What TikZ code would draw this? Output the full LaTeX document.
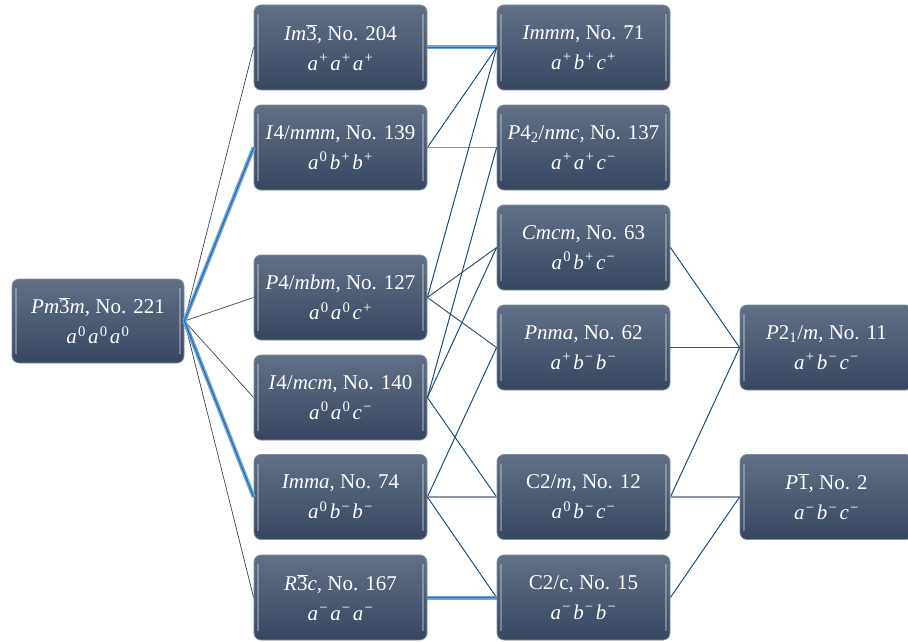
\documentclass[tikz,border=0pt]{standalone}
\usepackage{fontspec}
\setmainfont{Liberation Serif}
\newcommand\ivar[1]{\textit{#1}}
\newcommand\subr[1]{\textsubscript{#1}}
\newcommand\ovl[1]{$\overline{\mbox{#1}}$}
\newcommand\mn{−}
% one tilt component: italic letter with its superscript
\newcommand\tc[2]{\textit{#1}\kern1.2pt\textsuperscript{#2}}
% three tilt components with even gaps and no trailing space
\newcommand\tri[6]{\tc{#1}{#2}\kern2.2pt\tc{#3}{#4}\kern2.2pt\tc{#5}{#6}}
\begin{document}
\definecolor{boxtop}{HTML}{617085}
\definecolor{boxbot}{HTML}{374760}
\definecolor{boxedge}{HTML}{7F8DA2}
\definecolor{lineblue}{HTML}{1F4E79}
\definecolor{pmline}{HTML}{3A4456}
\definecolor{grayline}{HTML}{8C98A8}
\definecolor{slateline}{HTML}{3E5468}
\definecolor{lightblue}{HTML}{6AA6DC}
\definecolor{midblue}{HTML}{2F6FA8}
\begin{tikzpicture}[x=1pt,y=-1pt,
  box/.style={rounded corners=7pt, minimum width=173pt, minimum height=85pt,
    top color=boxtop, bottom color=boxbot, draw=boxedge, line width=0.8pt,
    text=white, align=center, inner sep=0pt,
    font=\fontsize{21}{30}\selectfont,
    path picture={
      \draw[white,opacity=0.3,line width=2pt]
        ([xshift=4pt,yshift=-9pt]path picture bounding box.north west) --
        ([xshift=4pt,yshift=9pt]path picture bounding box.south west);
      \draw[white,opacity=0.3,line width=2pt]
        ([xshift=-4pt,yshift=-9pt]path picture bounding box.north east) --
        ([xshift=-4pt,yshift=9pt]path picture bounding box.south east);}},
  thin/.style={draw=lineblue, line width=1pt},
  pm/.style={draw=pmline, line width=0.7pt},
  grayh/.style={draw=grayline, line width=1.3pt},
  slate/.style={draw=slateline, line width=1pt},
  thick/.style={draw=lightblue, line width=4pt},
  thickc/.style={draw=midblue, line width=1.2pt}
]
\useasboundingbox (0,0) rectangle (908,642);

% column 1
\node[box, minimum width=172pt, minimum height=84pt] (pm3m) at (98,321)
  {\ivar{Pm}\ovl{3}\ivar{m}, No. 221\\\tri{a}{0}{a}{0}{a}{0}};
% column 2
\node[box] (im3)   at (340.5,47.5)
  {\ivar{Im}\ovl{3}, No. 204\\\tri{a}{+}{a}{+}{a}{+}};
\node[box] (i4mmm) at (340.5,147.5)
  {\ivar{I}4/\ivar{mmm}, No. 139\\\tri{a}{0}{b}{+}{b}{+}};
\node[box] (p4mbm) at (340.5,297.5)
  {\ivar{P}4/\ivar{mbm}, No. 127\\\tri{a}{0}{a}{0}{c}{+}};
\node[box] (i4mcm) at (340.5,397.5)
  {\ivar{I}4/\ivar{mcm}, No. 140\\\tri{a}{0}{a}{0}{c}{\mn}};
\node[box] (imma)  at (340.5,497)
  {\ivar{Imma}, No. 74\\\tri{a}{0}{b}{\mn}{b}{\mn}};
\node[box] (r3c)   at (340.5,597.5)
  {\ivar{R}\ovl{3}\ivar{c}, No. 167\\\tri{a}{\mn}{a}{\mn}{a}{\mn}};
% column 3
\node[box] (immm)  at (583.5,47.5)
  {\ivar{Immm}, No. 71\\\tri{a}{+}{b}{+}{c}{+}};
\node[box] (p42)   at (583.5,147.5)
  {\ivar{P}4\subr{2}/\ivar{nmc}, No. 137\\\tri{a}{+}{a}{+}{c}{\mn}};
\node[box] (cmcm)  at (583.5,247.5)
  {\ivar{Cmcm}, No. 63\\\tri{a}{0}{b}{+}{c}{\mn}};
\node[box] (pnma)  at (583.5,347.5)
  {\ivar{Pnma}, No. 62\\\tri{a}{+}{b}{\mn}{b}{\mn}};
\node[box] (c2m)   at (583.5,497)
  {C2/\ivar{m}, No. 12\\\tri{a}{0}{b}{\mn}{c}{\mn}};
\node[box] (c2c)   at (583.5,597.5)
  {C2/c, No. 15\\\tri{a}{\mn}{b}{\mn}{b}{\mn}};
% column 4
\node[box] (p21m)  at (826.5,347.5)
  {\ivar{P}2\subr{1}/\ivar{m}, No. 11\\\tri{a}{+}{b}{\mn}{c}{\mn}};
\node[box] (p1)    at (826.5,497)
  {\ivar{P}\ovl{1}, No. 2\\\tri{a}{\mn}{b}{\mn}{c}{\mn}};

% connectors from Pm-3m
\draw[pm] (pm3m.east) -- (im3.west);
\draw[pm] (pm3m.east) -- (p4mbm.west);
\draw[pm] (pm3m.east) -- (i4mcm.west);
\draw[pm] (pm3m.east) -- (r3c.west);
\draw[thick] (pm3m.east) -- (i4mmm.west);
\draw[thickc] (pm3m.east) -- (i4mmm.west);
\draw[thick] (pm3m.east) -- (imma.west);
\draw[thickc] (pm3m.east) -- (imma.west);

% column 2 -> column 3
\draw[thick] (im3.east) -- (immm.west);
\draw[thickc] (im3.east) -- (immm.west);
\draw[thin] (i4mmm.east) -- (immm.west);
\draw[grayh] (i4mmm.east) -- (p42.west);
\draw[thin] (p4mbm.east) -- (immm.west);
\draw[slate] (p4mbm.east) -- (cmcm.west);
\draw[slate] (p4mbm.east) -- (pnma.west);
\draw[thin] (i4mcm.east) -- (p42.west);
\draw[thin] (i4mcm.east) -- (cmcm.west);
\draw[thin] (i4mcm.east) -- (c2m.west);
\draw[thin] (imma.east) -- (pnma.west);
\draw[grayh] (imma.east) -- (c2m.west);
\draw[thin] (imma.east) -- (c2c.west);
\draw[thick] (r3c.east) -- (c2c.west);
\draw[thickc] (r3c.east) -- (c2c.west);

% column 3 -> column 4
\draw[thin] (cmcm.east) -- (p21m.west);
\draw[slate] (pnma.east) -- (p21m.west);
\draw[thin] (c2m.east) -- (p21m.west);
\draw[grayh] (c2m.east) -- (p1.west);
\draw[thin] (c2c.east) -- (p1.west);
\end{tikzpicture}
\end{document}
